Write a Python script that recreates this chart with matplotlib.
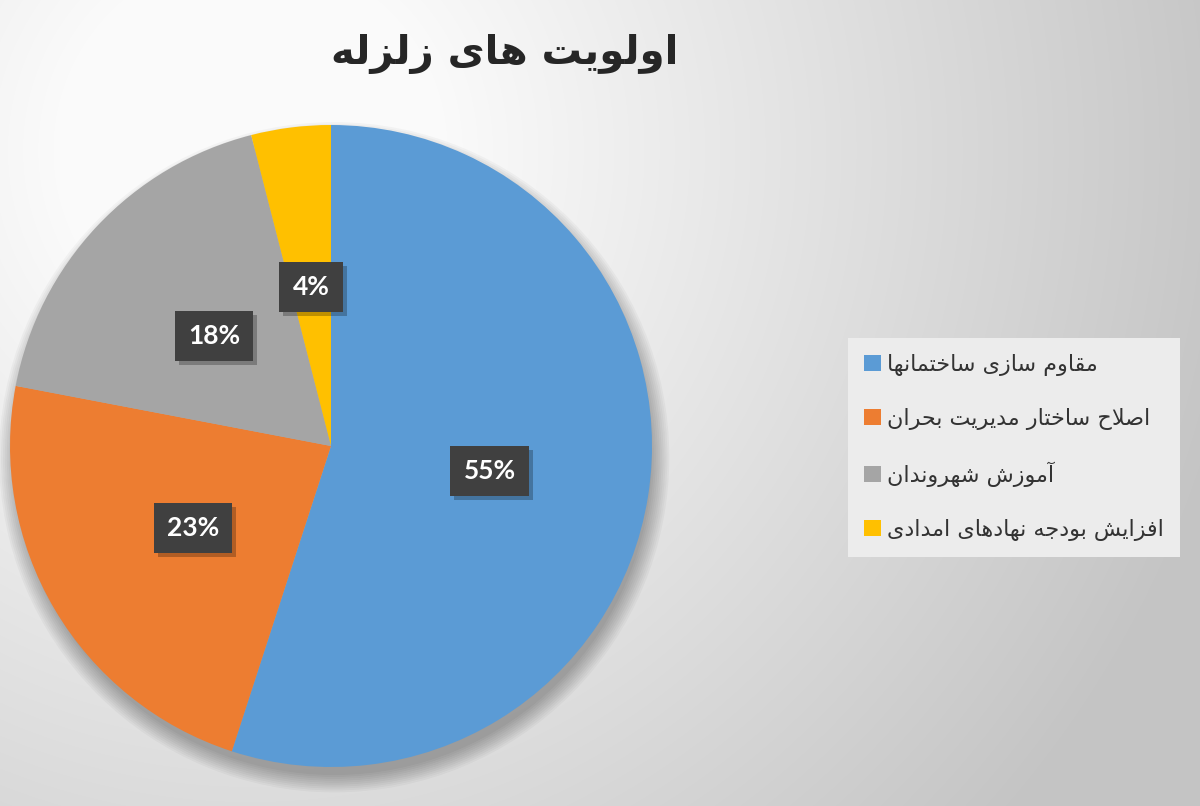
import numpy as np
import matplotlib
matplotlib.use('Agg')
import matplotlib.pyplot as plt
import matplotlib.patheffects as pe
from matplotlib.patches import Circle

# data
title = 'اولویت های زلزله'
categories = ['مقاوم سازی ساختمانها',
              'اصلاح ساختار مدیریت بحران',
              'آموزش شهروندان',
              'افزایش بودجه نهادهای امدادی']
shares = [55, 23, 18, 4]
colors = ['#5B9BD5', '#ED7D31', '#A5A5A5', '#FFC000']

# matplotlib has no arabic shaping, so pick the joined glyph forms by hand
# (isolated, final, initial, medial)
FORMS = {
    '\u0627': ('\uFE8D', '\uFE8E', None, None),        # alef
    '\u0622': ('\uFE81', '\uFE82', None, None),        # alef madda
    '\u0648': ('\uFEED', '\uFEEE', None, None),        # waw
    '\u0632': ('\uFEAF', '\uFEB0', None, None),        # zain
    '\u0631': ('\uFEAD', '\uFEAE', None, None),        # reh
    '\u062F': ('\uFEA9', '\uFEAA', None, None),        # dal
    '\u0644': ('\uFEDD', '\uFEDE', '\uFEDF', '\uFEE0'),  # lam
    '\u062A': ('\uFE95', '\uFE96', '\uFE97', '\uFE98'),  # teh
    '\u0647': ('\uFEE9', '\uFEEA', '\uFEEB', '\uFEEC'),  # heh
    '\u0645': ('\uFEE1', '\uFEE2', '\uFEE3', '\uFEE4'),  # meem
    '\u0642': ('\uFED5', '\uFED6', '\uFED7', '\uFED8'),  # qaf
    '\u0633': ('\uFEB1', '\uFEB2', '\uFEB3', '\uFEB4'),  # seen
    '\u062E': ('\uFEA5', '\uFEA6', '\uFEA7', '\uFEA8'),  # khah
    '\u0646': ('\uFEE5', '\uFEE6', '\uFEE7', '\uFEE8'),  # noon
    '\u062D': ('\uFEA1', '\uFEA2', '\uFEA3', '\uFEA4'),  # hah
    '\u0635': ('\uFEB9', '\uFEBA', '\uFEBB', '\uFEBC'),  # sad
    '\u0628': ('\uFE8F', '\uFE90', '\uFE91', '\uFE92'),  # beh
    '\u0634': ('\uFEB5', '\uFEB6', '\uFEB7', '\uFEB8'),  # sheen
    '\u0641': ('\uFED1', '\uFED2', '\uFED3', '\uFED4'),  # feh
    '\u062C': ('\uFE9D', '\uFE9E', '\uFE9F', '\uFEA0'),  # jeem
    '\u06CC': ('\uFEEF', '\uFEF0', '\uFEF3', '\uFEF4'),  # farsi yeh
}
LAM_ALEF = {'\u0627': ('\uFEFB', '\uFEFC'), '\u0622': ('\uFEF5', '\uFEF6')}


def joins_next(ch):
    return ch in FORMS and FORMS[ch][2] is not None


def shape_fa(text):
    out = []
    i = 0
    while i < len(text):
        ch = text[i]
        prev = text[i - 1] if i > 0 else ' '
        nxt = text[i + 1] if i + 1 < len(text) else ' '
        if ch not in FORMS:
            out.append(ch)
            i += 1
            continue
        linked = joins_next(prev)
        if ch == '\u0644' and nxt in LAM_ALEF:
            out.append(LAM_ALEF[nxt][1 if linked else 0])
            i += 2
            continue
        ahead = joins_next(ch) and nxt in FORMS
        if linked and ahead:
            out.append(FORMS[ch][3])
        elif linked:
            out.append(FORMS[ch][1])
        elif ahead:
            out.append(FORMS[ch][2])
        else:
            out.append(FORMS[ch][0])
        i += 1
    return ''.join(reversed(out))


W, H = 1200, 806
fig = plt.figure(figsize=(W / 100, H / 100), dpi=100)

# soft radial background, white near the top left, grey toward the edges
bg = fig.add_axes([0, 0, 1, 1], zorder=-5)
yy, xx = np.mgrid[0:H, 0:W]
dist = np.hypot(xx - 250, yy - 150)
shade = np.clip(263 - 0.066 * dist, 196, 250) / 255.0
bg.imshow(np.dstack([shade] * 3), aspect='auto', extent=(0, W, H, 0))
bg.axis('off')

# pie axes: centre (331, 446) px, radius 321 px
r_px = 321
ax = fig.add_axes([(331 - r_px) / W, (H - 446 - r_px) / H, 2 * r_px / W, 2 * r_px / H])
wedges, texts, autotexts = ax.pie(
    shares, colors=colors, startangle=90, counterclock=False, radius=1,
    autopct=lambda p: '%.0f%%' % p, pctdistance=0.5,
    textprops=dict(color='white', fontsize=19, fontweight='bold', family='Lato'))
ax.set_xlim(-1, 1)
ax.set_ylim(-1, 1)
ax.set_aspect('equal')

# blurred drop shadow under the pie
for k in range(10):
    ax.add_patch(Circle((0.01, -0.035), 0.99 + 0.006 * k, color='black',
                        alpha=0.03, lw=0, zorder=-1, clip_on=False))

for t in autotexts:
    t.set_bbox(dict(boxstyle='square,pad=0.5', fc='#404040', ec='none'))
    t.get_bbox_patch().set_path_effects(
        [pe.SimplePatchShadow(offset=(3, -3), shadow_rgbFace='black', alpha=0.25), pe.Normal()])
    t.set_zorder(5)

fig.text(505 / W, 1 - 54 / H, shape_fa(title), ha='center', va='center',
         fontsize=29, fontweight='bold', color='#262626', family='DejaVu Sans')

leg = fig.legend(wedges, [shape_fa(c) for c in categories],
                 loc='upper left', bbox_to_anchor=(848 / W, 1 - 338 / H),
                 frameon=True, fancybox=False, facecolor='#ececec', edgecolor='none',
                 framealpha=1, handlelength=0.75, handleheight=0.75,
                 handletextpad=0.3, labelspacing=1.43, borderpad=0.72, borderaxespad=0,
                 labelcolor='#333333', prop={'family': 'DejaVu Sans', 'size': 16})

fig.savefig('out.png', dpi=100)
